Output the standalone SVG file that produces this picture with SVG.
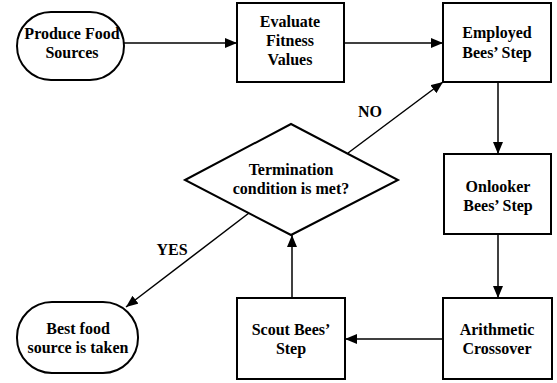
<svg xmlns="http://www.w3.org/2000/svg" width="557" height="383" viewBox="0 0 557 383">
<style>
.n{fill:#fff;stroke:#000;stroke-width:2}
.t{font-family:'Liberation Serif','Times New Roman','DejaVu Serif',serif;font-weight:700;font-size:16px;text-anchor:middle;fill:#000}
.c{fill:none;stroke:#000;stroke-width:1.5;marker-end:url(#ah)}
</style>
<defs>
<marker id="ah" viewBox="0 0 12 10" refX="12" refY="5" markerWidth="12" markerHeight="10" markerUnits="userSpaceOnUse" orient="auto">
<path d="M0,0 L12,5 L0,10 Z" fill="#000"/>
</marker>
</defs>
<rect width="557" height="383" fill="#fff"/>
<g id="connectors">
<line class="c" x1="124" y1="43" x2="237" y2="43"/>
<line class="c" x1="344" y1="43" x2="443" y2="43"/>
<line class="c" x1="498" y1="82" x2="498" y2="154"/>
<line class="c" x1="498" y1="234" x2="498" y2="298"/>
<line class="c" x1="443" y1="339" x2="345" y2="339"/>
<line class="c" x1="292" y1="298" x2="292" y2="235"/>
<line class="c" x1="348" y1="153" x2="443" y2="82"/>
<line class="c" x1="249" y1="213" x2="126" y2="307"/>
<text class="t" x="370" y="117">NO</text>
<text class="t" x="172" y="255">YES</text>
</g>
<g id="produce">
<rect class="n" x="17" y="12" width="107" height="68" rx="34" ry="34"/>
<text class="t" x="72" y="39">Produce Food</text>
<text class="t" x="72" y="58">Sources</text>
</g>
<g id="evaluate">
<rect class="n" x="237" y="3" width="107" height="79"/>
<text class="t" x="290" y="27">Evaluate</text>
<text class="t" x="290" y="46">Fitness</text>
<text class="t" x="290" y="65">Values</text>
</g>
<g id="employed">
<rect class="n" x="443" y="3" width="108" height="79"/>
<text class="t" x="497" y="38">Employed</text>
<text class="t" x="497" y="58">Bees’ Step</text>
</g>
<g id="onlooker">
<rect class="n" x="444" y="154" width="107" height="80"/>
<text class="t" x="498" y="192">Onlooker</text>
<text class="t" x="498" y="211">Bees’ Step</text>
</g>
<g id="termination">
<polygon class="n" points="185,180 291,124 398,180 291,235"/>
<text class="t" x="291" y="175">Termination</text>
<text class="t" x="291" y="194">condition is met?</text>
</g>
<g id="arithmetic">
<rect class="n" x="443" y="298" width="109" height="81"/>
<text class="t" x="497" y="335">Arithmetic</text>
<text class="t" x="497" y="354">Crossover</text>
</g>
<g id="scout">
<rect class="n" x="237" y="298" width="108" height="81"/>
<text class="t" x="291" y="335">Scout Bees’</text>
<text class="t" x="291" y="354">Step</text>
</g>
<g id="best">
<rect class="n" x="17" y="302" width="121" height="71" rx="35" ry="35"/>
<text class="t" x="78" y="334">Best food</text>
<text class="t" x="78" y="353">source is taken</text>
</g>
</svg>
